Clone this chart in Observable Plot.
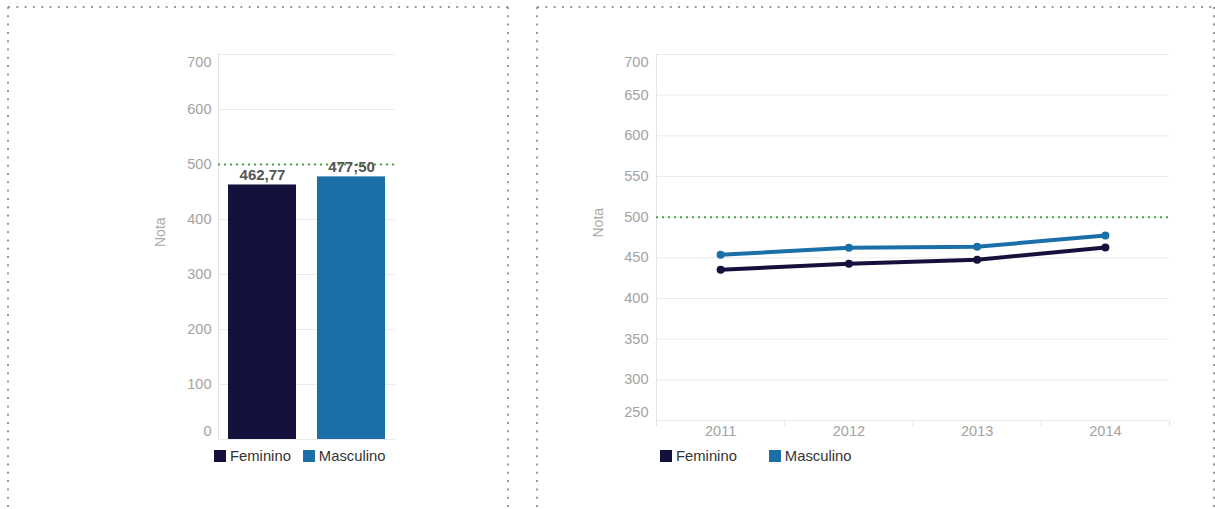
<!DOCTYPE html>
<html><head><meta charset="utf-8">
<script src="https://cdn.jsdelivr.net/npm/d3@7"></script>
<script src="https://cdn.jsdelivr.net/npm/@observablehq/plot@0.6"></script>
<style>
body{margin:0;background:#fff;font-family:"Liberation Sans",Arial,sans-serif;}
#wrap{position:relative;width:1215px;height:509px;overflow:hidden;background:#fff;}
.pane{position:absolute;top:0;}
.legend{position:absolute;display:flex;align-items:center;font-size:14.8px;color:#333;line-height:14px;}
.sw{display:inline-block;width:12px;height:12px;margin-right:4px;}
</style></head>
<body><div id="wrap">
<svg id="borders" width="1215" height="509" style="position:absolute;left:0;top:0">
  <g stroke="#9a9a9a" stroke-width="2" stroke-dasharray="2 6.3">
    <line x1="8" y1="7" x2="508" y2="7"/>
    <line x1="8" y1="7" x2="8" y2="509"/>
    <line x1="508" y1="7" x2="508" y2="509"/>
    <line x1="537" y1="7" x2="1214" y2="7"/>
    <line x1="537" y1="7" x2="537" y2="509"/>
    <line x1="1214" y1="7" x2="1214" y2="509"/>
  </g>
</svg>
</div>
<script>
// ---- data ----
const sexos = ["Feminino", "Masculino"];
const notas2014 = [462.77, 477.50];
const rotulos = ["462,77", "477;50"];
const anos = [2011, 2012, 2013, 2014];
const feminino = [435.3, 442.7, 447.6, 462.77];
const masculino = [453.7, 462.3, 463.6, 477.50];
const cores = ["#15113d", "#1b6fa8"];
const meta = 500;
const ticksBarra = [0, 100, 200, 300, 400, 500, 600, 700];
const ticksLinha = [250, 300, 350, 400, 450, 500, 550, 600, 650, 700];

const gridColor = "#ececec";
const tickColor = "#a3a3a3";
const greenColor = "#45a845";
const fontFam = "Liberation Sans, Arial, sans-serif";
const fs = 14.5;

const wrap = document.getElementById("wrap");

// ---- left: bar chart ----
const barData = sexos.map((s, i) => ({sexo: s, nota: notas2014[i], rotulo: rotulos[i]}));
const yMinB = d3.min(ticksBarra), yMaxB = d3.max(ticksBarra);
const left = Plot.plot({
  width: 510, height: 470,
  marginLeft: 218, marginRight: 115, marginTop: 54, marginBottom: 31,
  style: {fontFamily: fontFam, fontSize: "14.5px", background: "transparent"},
  x: {domain: sexos, paddingInner: 0.24, paddingOuter: 0.11, axis: null},
  y: {domain: [yMinB, yMaxB], label: null},
  color: {domain: sexos, range: cores},
  marks: [
    Plot.ruleY(ticksBarra, {stroke: gridColor}),
    Plot.frame({anchor: "left", stroke: "#e4e4e4"}),
    Plot.axisY(ticksBarra.filter(t => t > yMinB && t < yMaxB), {tickSize: 0, tickPadding: 7, color: tickColor, label: null, fontSize: fs}),
    Plot.axisY([yMaxB], {tickSize: 0, tickPadding: 7, color: tickColor, label: null, dy: 8, fontSize: fs}),
    Plot.axisY([yMinB], {tickSize: 0, tickPadding: 7, color: tickColor, label: null, dy: -8, fontSize: fs}),
    Plot.text(["Nota"], {frameAnchor: "left", rotate: -90, dx: -58, fill: "#aaa", fontSize: 14}),
    Plot.barY(barData, {x: "sexo", y: "nota", fill: "sexo"}),
    Plot.ruleY([meta], {stroke: greenColor, strokeWidth: 2, strokeDasharray: "2,4"}),
    Plot.text(barData, {x: "sexo", y: "nota", text: "rotulo", lineAnchor: "bottom", dy: -5, fontWeight: "bold", fill: "#555", fontSize: 15})
  ]
});
left.classList.add("pane");
left.style.left = "0px";
wrap.appendChild(left);

// ---- right: line chart ----
const lineData = [
  ...anos.map((a, i) => ({ano: a, nota: feminino[i], sexo: sexos[0]})),
  ...anos.map((a, i) => ({ano: a, nota: masculino[i], sexo: sexos[1]}))
];
const limites = [...anos.map(a => a - 0.5), anos[anos.length - 1] + 0.5];
const yMinL = d3.min(ticksLinha), yMaxL = d3.max(ticksLinha);
const right = Plot.plot({
  width: 695, height: 470,
  marginLeft: 136, marginRight: 46, marginTop: 54, marginBottom: 50,
  style: {fontFamily: fontFam, fontSize: "14.5px", background: "transparent"},
  x: {domain: [d3.min(limites), d3.max(limites)], label: null},
  y: {domain: [yMinL, yMaxL], label: null},
  color: {domain: sexos, range: cores},
  marks: [
    Plot.ruleY(ticksLinha, {stroke: gridColor}),
    Plot.frame({anchor: "left", stroke: "#e4e4e4"}),
    Plot.axisY(ticksLinha.filter(t => t > yMinL && t < yMaxL), {tickSize: 0, tickPadding: 8, color: tickColor, label: null, fontSize: fs}),
    Plot.axisY([yMaxL], {tickSize: 0, tickPadding: 8, color: tickColor, label: null, dy: 8, fontSize: fs}),
    Plot.axisY([yMinL], {tickSize: 0, tickPadding: 8, color: tickColor, label: null, dy: -8, fontSize: fs}),
    Plot.axisX(anos, {tickSize: 0, tickPadding: 5, color: tickColor, tickFormat: d => String(d), label: null, fontSize: fs}),
    Plot.axisX(limites, {tickSize: 6, stroke: "#e2e2e2", fill: "none", label: null}),
    Plot.text(["Nota"], {frameAnchor: "left", rotate: -90, dx: -58, fill: "#aaa", fontSize: 14}),
    Plot.ruleY([meta], {stroke: greenColor, strokeWidth: 2, strokeDasharray: "2,4"}),
    Plot.line(lineData, {x: "ano", y: "nota", stroke: "sexo", strokeWidth: 4}),
    Plot.dot(lineData, {x: "ano", y: "nota", fill: "sexo", r: 4})
  ]
});
right.classList.add("pane");
right.style.left = "520px";
wrap.appendChild(right);

// ---- legends ----
function legend(x, gap) {
  const d = document.createElement("div");
  d.className = "legend";
  d.style.left = x + "px";
  d.style.top = "449px";
  sexos.forEach((s, i) => {
    const item = document.createElement("span");
    item.style.display = "inline-flex";
    item.style.alignItems = "center";
    item.style.marginRight = gap + "px";
    const sw = document.createElement("span");
    sw.className = "sw";
    sw.style.background = cores[i];
    item.appendChild(sw);
    item.appendChild(document.createTextNode(s));
    d.appendChild(item);
  });
  wrap.appendChild(d);
}
legend(214, 12);
legend(660, 32);
</script>
</body></html>
